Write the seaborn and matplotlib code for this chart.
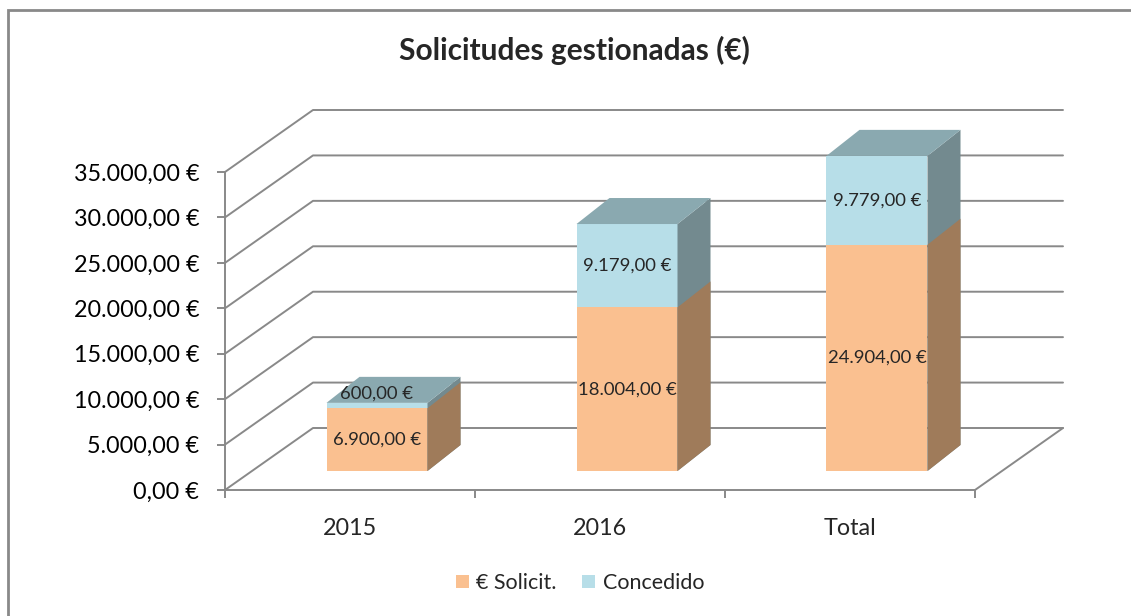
import numpy as np
import pandas as pd
import seaborn as sns
import matplotlib
matplotlib.use("Agg")
import matplotlib.pyplot as plt
import matplotlib.transforms as mtransforms
from matplotlib.patches import Polygon, Rectangle, Patch
from matplotlib.lines import Line2D

# data
categories = ["2015", "2016", "Total"]
solicit = [6900, 18004, 24904]
concedido = [600, 9179, 9779]
series_names = ["€ Solicit.", "Concedido"]
yticks = [0, 5000, 10000, 15000, 20000, 25000, 30000, 35000]

ORANGE = "#FAC090"
ORANGE_SIDE = "#9F7B5A"
BLUE = "#B7DEE8"
BLUE_TOP = "#8AA9B0"
BLUE_SIDE = "#738A8F"
GRID = "#898989"


def eur(v):
    s = f"{v:,.2f}"
    return s.replace(",", "X").replace(".", ",").replace("X", ".") + " €"


sns.set_style("white")
plt.rcParams["font.family"] = ["Lato", "DejaVu Sans"]

W, H, DPI = 1131, 616, 100
fig = plt.figure(figsize=(W / DPI, H / DPI), dpi=DPI)
ax = fig.add_axes([225 / W, 1 - 490 / H, 750 / W, 318 / H])
ax.patch.set_visible(False)

df = pd.DataFrame({"categoria": categories, "solicit": solicit, "concedido": concedido})
df["total"] = df["solicit"] + df["concedido"]

# stacked bars: totals (blue) first, then orange on top of them
n0 = len(ax.patches)
sns.barplot(data=df, x="categoria", y="total", color=BLUE, saturation=1,
            width=0.404, linewidth=0, ax=ax, zorder=3)
blue_bars = ax.patches[n0:]
n1 = len(ax.patches)
sns.barplot(data=df, x="categoria", y="solicit", color=ORANGE, saturation=1,
            width=0.404, linewidth=0, ax=ax, zorder=3)
orange_bars = ax.patches[n1:]

ax.set_xlim(-0.5, 2.5)
ax.set_ylim(0, 35000)
ax.set_xlabel("")
ax.set_ylabel("")

ident = mtransforms.IdentityTransform()
wall = np.array([88, 62])      # depth of the floor / side wall (pixels)
shift = np.array([27, 19])     # bars sit a bit inside the box
depth = np.array([33, 26])     # depth of each bar

bar_trans = ax.transData + mtransforms.ScaledTranslation(shift[0] / DPI, shift[1] / DPI,
                                                         fig.dpi_scale_trans)
for p in blue_bars + orange_bars:
    p.set_transform(bar_trans)
    p.set_clip_on(False)

# walls and gridlines
for v in yticks:
    p0 = ax.transData.transform((-0.5, v))
    p1 = p0 + wall
    p2 = np.array([ax.transData.transform((2.5, v))[0] + wall[0], p1[1]])
    ax.add_artist(Line2D([p0[0], p1[0], p2[0]], [p0[1], p1[1], p2[1]], transform=ident,
                         color=GRID, lw=1.4, clip_on=False, zorder=1))
f0 = ax.transData.transform((2.5, 0))
f1 = f0 + wall
ax.add_artist(Line2D([f0[0], f1[0]], [f0[1], f1[1]], transform=ident,
                     color=GRID, lw=1.4, clip_on=False, zorder=1))


def add_face(points, color, z):
    ax.add_artist(Polygon(points, closed=True, facecolor=color, edgecolor="none",
                          transform=ident, clip_on=False, zorder=z))


def corners(p):
    x, y, w, h = p.get_x(), p.get_y(), p.get_width(), p.get_height()
    bl, br, tr, tl = bar_trans.transform([(x, y), (x + w, y), (x + w, y + h), (x, y + h)])
    return bl, br, tr, tl


for p in blue_bars:
    bl, br, tr, tl = corners(p)
    add_face([br, tr, tr + depth, br + depth], BLUE_SIDE, 3)
    add_face([tl, tr, tr + depth, tl + depth], BLUE_TOP, 3)
for p in orange_bars:
    bl, br, tr, tl = corners(p)
    add_face([br, tr, tr + depth, br + depth], ORANGE_SIDE, 3.5)

# data labels
LABEL_SIZE = 13.3
for i in range(len(categories)):
    xc = i
    ax.text(xc, solicit[i] / 2, eur(solicit[i]), transform=bar_trans, ha="center",
            va="center", fontsize=LABEL_SIZE, zorder=6, clip_on=False)
    top = solicit[i] + concedido[i]
    seg_px = concedido[i] * (318 / 35000)
    if seg_px < 20:
        ax.text(xc, top, eur(concedido[i]),
                transform=bar_trans + mtransforms.ScaledTranslation(0, 1 / DPI, fig.dpi_scale_trans),
                ha="center", va="bottom", fontsize=LABEL_SIZE, zorder=6, clip_on=False)
    else:
        ax.text(xc, solicit[i] + concedido[i] / 2, eur(concedido[i]), transform=bar_trans,
                ha="center", va="center", fontsize=LABEL_SIZE, zorder=6, clip_on=False)

# axes styling
for s in ["top", "right"]:
    ax.spines[s].set_visible(False)
for s in ["left", "bottom"]:
    ax.spines[s].set_color(GRID)
    ax.spines[s].set_linewidth(1.4)
ax.set_yticks(yticks)
ax.set_yticklabels([eur(v) for v in yticks])
ax.tick_params(axis="y", left=True, length=5.5, width=1.4, color=GRID, pad=13,
               labelsize=16.8, labelcolor="black")
ax.set_xticks(range(len(categories)))
ax.set_xticklabels(categories)
ax.set_xticks([-0.5, 0.5, 1.5, 2.5], minor=True)
ax.tick_params(axis="x", which="major", bottom=True, length=0, pad=20, labelsize=16.8)
ax.tick_params(axis="x", which="minor", bottom=True, length=5.5, width=1.4, color=GRID)

fig.text(574 / W, 1 - 50 / H, "Solicitudes gestionadas (€)", ha="center", va="center",
         fontsize=21.5, fontweight="bold")

handles = [Patch(facecolor=ORANGE, edgecolor="none"), Patch(facecolor=BLUE, edgecolor="none")]
fig.legend(handles, series_names, loc="center", bbox_to_anchor=(580 / W, 1 - 583 / H),
           ncol=2, frameon=False, fontsize=15.5, handlelength=0.6, handleheight=0.6,
           handletextpad=0.35, columnspacing=1.2)

fig.add_artist(Rectangle((8 / W, -0.05), 1.2, 1.05 - 10 / H, transform=fig.transFigure,
                         fill=False, edgecolor=GRID, lw=2))

fig.savefig("out.png", dpi=DPI)
